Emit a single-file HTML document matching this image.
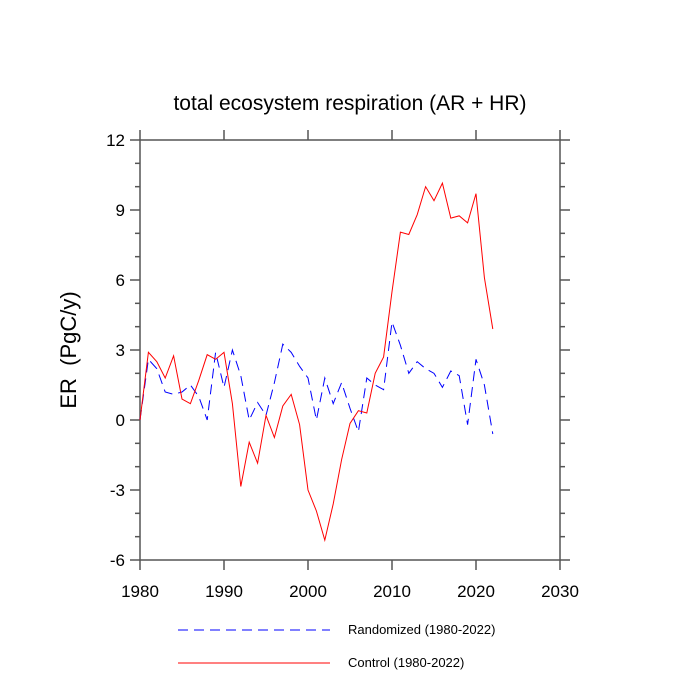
<!DOCTYPE html>
<html><head><meta charset="utf-8"><style>
body{margin:0;background:#fff}
svg{display:block;font-family:"Liberation Sans",sans-serif}
</style></head><body>
<svg id="c" width="700" height="700"></svg>
<script>
const years=[];for(let y=1980;y<=2022;y++)years.push(y);
const control=[0,2.9,2.5,1.8,2.75,0.9,0.7,1.7,2.8,2.6,2.9,0.7,-2.85,-0.95,-1.85,0.2,-0.75,0.6,1.1,-0.2,-3.0,-3.9,-5.15,-3.6,-1.7,-0.15,0.4,0.3,2.0,2.7,5.5,8.05,7.95,8.8,10.0,9.4,10.15,8.65,8.75,8.45,9.7,6.1,3.9];
const randomized=[0,2.6,2.2,1.2,1.1,1.2,1.5,1.0,0.0,2.9,1.4,3.0,1.9,0.0,0.75,0.2,1.6,3.25,2.9,2.3,1.8,0.0,1.8,0.7,1.6,0.5,-0.5,1.8,1.5,1.3,4.2,3.2,2.0,2.5,2.2,2.0,1.4,2.1,1.9,-0.2,2.6,1.5,-0.6];
const xTicks=[1980,1990,2000,2010,2020,2030];
const yTicks=[-6,-3,0,3,6,9,12];
const L=140,R=560,T=140,B=560;
const sx=v=>L+(v-1980)/50*(R-L);
const sy=v=>B-(v+6)/18*(B-T);
const svg=document.getElementById('c');
const NS='http://www.w3.org/2000/svg';
function el(t,a,p){const e=document.createElementNS(NS,t);for(const k in a)e.setAttribute(k,a[k]);(p||svg).appendChild(e);return e;}
let t=el('text',{x:350,y:110,'text-anchor':'middle','font-size':21});t.textContent='total ecosystem respiration (AR + HR)';

let f=el('rect',{x:L,y:T,width:R-L,height:B-T,fill:'none',stroke:'#555','stroke-width':1.5});

const ax=el('g',{stroke:'#555','stroke-width':1.5});

xTicks.forEach(v=>{const x=sx(v);
el('line',{x1:x,y1:B,x2:x,y2:B+10},ax);el('line',{x1:x,y1:T,x2:x,y2:T-10},ax);});
for(let v=-6;v<=12;v++){const y=sy(v);const m=(v%3===0)?10:5;
el('line',{x1:L,y1:y,x2:L-m,y2:y},ax);el('line',{x1:R,y1:y,x2:R+m,y2:y},ax);}
xTicks.forEach(v=>{const e=el('text',{x:sx(v),y:B+37,'text-anchor':'middle','font-size':17});e.textContent=v;
});
yTicks.forEach(v=>{const e=el('text',{x:L-15,y:sy(v)+6,'text-anchor':'end','font-size':17});e.textContent=v;
});
let yt=el('text',{x:0,y:0,'text-anchor':'middle','font-size':22,transform:'translate(76,350) rotate(-90)'});yt.textContent='ER \u00a0(PgC/y)';

function pts(a){return a.map((v,i)=>sx(years[i])+','+sy(v)).join(' ');}
let lb=el('polyline',{points:pts(randomized),fill:'none',stroke:'#0000ff','stroke-width':1,'stroke-dasharray':'10,6'});

let lr=el('polyline',{points:pts(control),fill:'none',stroke:'#ff0000','stroke-width':1});

let g1=el('g',{});
el('line',{x1:178,y1:630,x2:330,y2:630,stroke:'#0000ff','stroke-dasharray':'10,6'},g1);
let tx=el('text',{x:348,y:634,'font-size':13},g1);tx.textContent='Randomized (1980-2022)';
let g2=el('g',{});
el('line',{x1:178,y1:663,x2:330,y2:663,stroke:'#ff0000'},g2);
tx=el('text',{x:348,y:667,'font-size':13},g2);tx.textContent='Control (1980-2022)';
</script>
</body></html>
